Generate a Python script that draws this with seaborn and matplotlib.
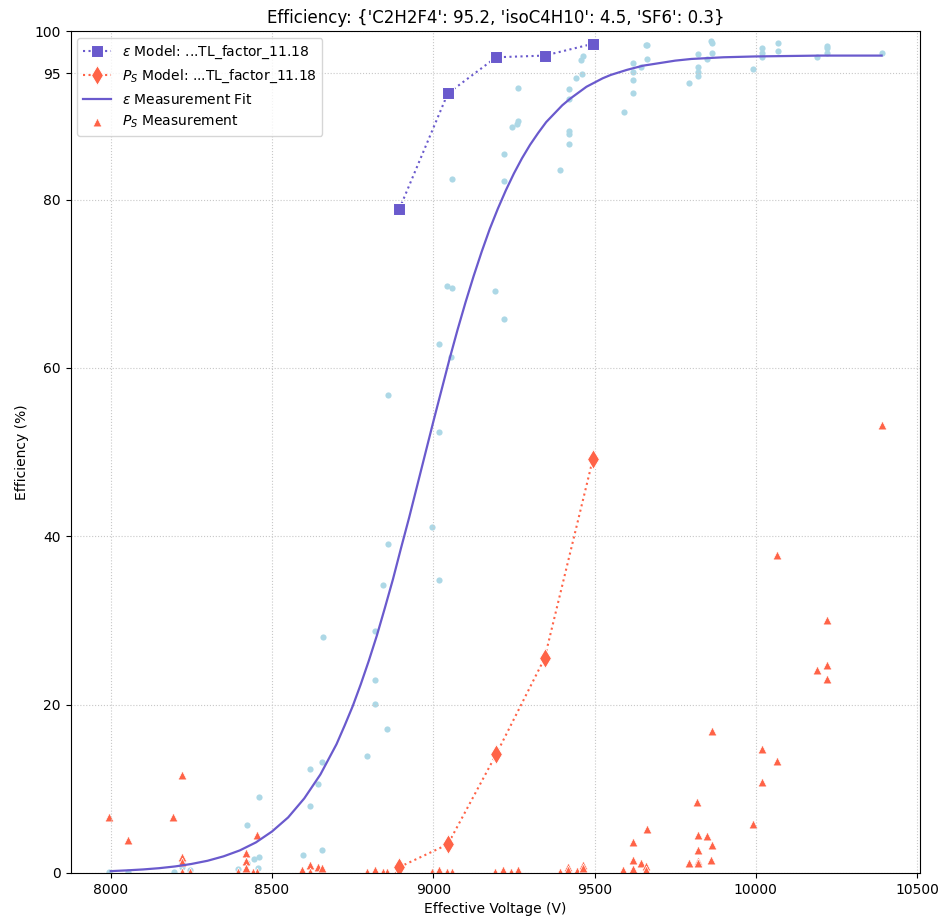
import seaborn as sns
import matplotlib
matplotlib.use("Agg")
import matplotlib.pyplot as plt
import pandas as pd

# model points (TL_factor_11.18)
model_v = [8895, 9045, 9195, 9345, 9495]
model_eff = [78.9, 92.6, 96.9, 97.1, 98.5]
model_ps = [0.7, 3.4, 14.1, 25.5, 49.2]

# efficiency fit curve
fit_v = [8000, 8050, 8100, 8150, 8200, 8250, 8300, 8350, 8400, 8450, 8500,
         8550, 8600, 8650, 8700, 8725, 8750, 8775, 8800, 8825, 8850, 8875,
         8900, 8925, 8950, 8975, 9000, 9025, 9050, 9075, 9100, 9125, 9150,
         9175, 9200, 9225, 9250, 9275, 9300, 9325, 9350, 9375, 9400, 9425,
         9450, 9475, 9500, 9525, 9550, 9575, 9600, 9650, 9700, 9750, 9800,
         9900, 10000, 10100, 10200, 10300, 10390]
fit_eff = [0.22, 0.31, 0.42, 0.57, 0.78, 1.07, 1.45, 1.98, 2.68, 3.63, 4.93,
           6.6, 8.86, 11.7, 15.3, 17.5, 19.8, 22.4, 25.2, 28.2, 31.5, 34.9,
           38.6, 42.2, 46.0, 49.8, 53.6, 57.3, 61.0, 64.5, 67.8, 70.9, 73.8,
           76.5, 78.9, 81.1, 83.1, 84.9, 86.5, 87.9, 89.2, 90.2, 91.2, 92.0,
           92.7, 93.4, 93.9, 94.4, 94.8, 95.1, 95.4, 95.9, 96.2, 96.5, 96.7,
           96.9, 97.0, 97.05, 97.1, 97.1, 97.1]

# efficiency measurement
eff_v = [7995, 8053, 8195, 8220, 8220, 8245,
         8396, 8421, 8421, 8443, 8461, 8461, 8458,
         8595, 8619, 8619, 8644, 8656, 8656, 8659,
         8796, 8820, 8820, 8820, 8857, 8845, 8861, 8861,
         8997, 9019, 9019, 9019, 9056, 9043, 9059, 9059,
         9192, 9220, 9220, 9220, 9245, 9263, 9258, 9263,
         9393, 9421, 9421, 9421, 9421, 9421, 9443, 9461, 9458, 9464,
         9591, 9619, 9619, 9619, 9619, 9644, 9661, 9664, 9664,
         9793, 9820, 9820, 9820, 9820, 9848, 9861, 9864, 9864,
         9991, 10019, 10019, 10019, 10068, 10068,
         10189, 10220, 10220, 10220, 10390]
eff_meas = [0.1, 0.1, 0.1, 1.2, 0.7, 0.4,
            0.5, 5.7, 1.2, 1.7, 1.9, 9.0, 0.6,
            2.1, 12.4, 8.0, 10.6, 13.2, 2.7, 28.0,
            13.9, 28.7, 22.9, 20.1, 17.1, 34.2, 39.1, 56.8,
            41.1, 34.8, 52.4, 62.8, 61.3, 69.7, 69.5, 82.4,
            69.1, 65.8, 82.2, 85.4, 88.6, 89.3, 89.0, 93.3,
            83.5, 86.6, 87.8, 88.1, 92.0, 93.1, 94.4, 94.9, 96.6, 97.1,
            90.4, 92.6, 94.2, 95.1, 96.2, 95.7, 98.3, 98.4, 96.7,
            93.8, 94.7, 95.2, 95.7, 97.3, 96.7, 98.8, 98.6, 97.4,
            95.5, 96.9, 97.4, 98.0, 97.6, 98.6,
            96.9, 97.4, 98.0, 98.2, 97.4]

# P_S measurement
ps_v = [7995, 8053, 8192, 8220, 8220, 8220, 8220, 8245,
        8418, 8418, 8418, 8455, 8455, 8396, 8440,
        8594, 8619, 8644, 8656, 8619,
        8796, 8820, 8845, 8857, 8890,
        8997, 9019, 9043, 9059,
        9192, 9216, 9240, 9263,
        9393, 9418, 9418, 9446, 9464, 9464,
        9588, 9619, 9619, 9619, 9644, 9661, 9663, 9661,
        9793, 9817, 9820, 9820, 9820, 9820, 9848, 9864, 9864, 9861,
        9991, 10019, 10019, 10065, 10065,
        10189, 10220, 10220, 10220, 10390]
ps_meas = [6.7, 3.9, 6.7, 11.6, 1.9, 1.3, 0.1, 0.1,
           2.4, 1.4, 0.6, 4.5, 0.1, 0.1, 0.1,
           0.3, 0.9, 0.7, 0.6, 0.1,
           0.1, 0.3, 0.1, 0.1, 0.5,
           0.1, 0.3, 0.1, 0.1,
           0.1, 0.3, 0.1, 0.3,
           0.1, 0.7, 0.3, 0.2, 1.0, 0.6,
           0.3, 3.7, 1.5, 0.5, 1.2, 0.8, 5.2, 0.3,
           1.2, 8.4, 4.5, 2.7, 1.4, 1.2, 4.4, 16.9, 3.3, 1.5,
           5.8, 14.7, 10.8, 13.3, 37.8,
           24.1, 30.0, 24.7, 23.0, 53.2]

model_df = pd.DataFrame({'V': model_v, 'eff': model_eff, 'ps': model_ps})
fit_df = pd.DataFrame({'V': fit_v, 'eff': fit_eff})
eff_df = pd.DataFrame({'V': eff_v, 'eff': eff_meas})
ps_df = pd.DataFrame({'V': ps_v, 'ps': ps_meas})

fig, ax = plt.subplots(figsize=(9.4, 9.17), dpi=100)
fig.subplots_adjust(left=0.075, right=0.979, bottom=0.048, top=0.966)

sns.scatterplot(data=eff_df, x='V', y='eff', color='lightblue', s=20,
                linewidth=0, ax=ax)
sns.scatterplot(data=ps_df, x='V', y='ps', color='tomato', marker='^', s=40,
                edgecolor='white', linewidth=0.5, ax=ax,
                label=r'$P_S$ Measurement')

sns.lineplot(data=model_df, x='V', y='eff', color='slateblue', marker='s',
             linestyle=':', markersize=8, linewidth=1.5, ax=ax,
             label=r'$\varepsilon$ Model: ...TL_factor_11.18')
sns.lineplot(data=model_df, x='V', y='ps', color='tomato', marker='d',
             linestyle=':', markersize=10, linewidth=1.5, ax=ax,
             label=r'$P_S$ Model: ...TL_factor_11.18')
sns.lineplot(data=fit_df, x='V', y='eff', color='slateblue', linewidth=1.6,
             ax=ax, label=r'$\varepsilon$ Measurement Fit')

ax.set_ylim(0, 100)
ax.set_yticks([0, 20, 40, 60, 80, 95, 100])
ax.set_xticks([8000, 8500, 9000, 9500, 10000, 10500])
ax.grid(True, linestyle=':', color='#c8c8c8')
ax.set_xlabel('Effective Voltage (V)')
ax.set_ylabel('Efficiency (%)')
ax.set_title("Efficiency: {'C2H2F4': 95.2, 'isoC4H10': 4.5, 'SF6': 0.3}")

handles, labels = ax.get_legend_handles_labels()
order = [r'$\varepsilon$ Model: ...TL_factor_11.18', r'$P_S$ Model: ...TL_factor_11.18',
         r'$\varepsilon$ Measurement Fit', r'$P_S$ Measurement']
hmap = dict(zip(labels, handles))
ax.legend([hmap[l] for l in order], order, loc='upper left')

fig.savefig('out.png')
